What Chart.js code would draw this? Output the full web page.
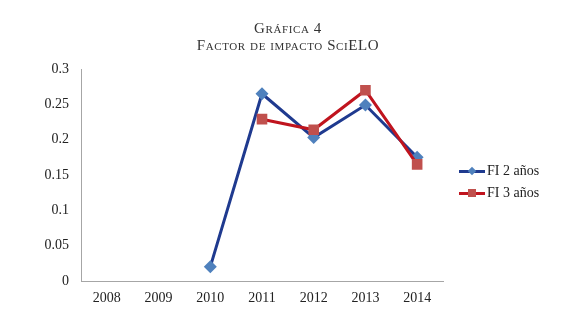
<!DOCTYPE html>
<html>
<head>
<meta charset="utf-8">
<script src="https://cdn.jsdelivr.net/npm/chart.js@4"></script>
<style>
  body { margin: 0; background: #fff; }
  #wrap { position: relative; width: 580px; height: 331px; font-family: "Liberation Serif", "DejaVu Serif", serif; color: #222; }
  #title { position: absolute; left: 0; top: 20px; width: 576px; text-align: center; font-variant: small-caps; font-size: 15px; line-height: 17px; letter-spacing: 0.6px; color: #333; }
  #legend { position: absolute; left: 459px; top: 162px; font-size: 14px; }
  .row { position: relative; height: 22px; line-height: 18px; padding-left: 28px; }
  .row .ln { position: absolute; left: 0; top: 8px; width: 26px; height: 3px; }
  .row .mk { position: absolute; }
</style>
</head>
<body>
<div id="wrap">
  <div id="title">Gráfica 4<br>Factor de impacto SciELO</div>
  <canvas id="chart" width="580" height="331"></canvas>
  <div id="legend"></div>
</div>
<script>
// datos
const years = ['2008', '2009', '2010', '2011', '2012', '2013', '2014'];
const fi2 = [null, null, 0.02, 0.265, 0.203, 0.249, 0.175];
const fi3 = [null, null, null, 0.229, 0.214, 0.27, 0.165];
const seriesNames = ['FI 2 años', 'FI 3 años'];

const navy = '#1f3a8f';
const blueMark = '#4f81bd';
const red = '#c0141e';
const redMark = '#c0504d';

const ctx = document.getElementById('chart').getContext('2d');

new Chart(ctx, {
    type: 'line',
    data: {
        labels: years,
        datasets: [{
            label: seriesNames[0],
            data: fi2,
            borderColor: navy,
            borderWidth: 3,
            pointStyle: 'rectRot',
            pointRadius: 6.5,
            pointBackgroundColor: blueMark,
            pointBorderColor: blueMark,
            pointBorderWidth: 0,
            order: 2
        }, {
            label: seriesNames[1],
            data: fi3,
            borderColor: red,
            borderWidth: 3,
            pointStyle: 'rect',
            pointRadius: 7.5,
            pointBackgroundColor: redMark,
            pointBorderColor: redMark,
            pointBorderWidth: 0,
            order: 1
        }]
    },
    options: {
        responsive: false,
        animation: false,
        layout: { padding: { top: 69, right: 137, bottom: 0, left: 0 } },
        plugins: {
            legend: { display: false },
            tooltip: { enabled: false }
        },
        scales: {
            x: {
                offset: true,
                grid: { display: false, drawTicks: false },
                border: { display: true, color: '#a6a6a6', width: 1 },
                ticks: {
                    color: '#222',
                    padding: 9,
                    font: { family: '"Liberation Serif", serif', size: 14 }
                },
                afterFit: function(scale) { scale.height = 50; }
            },
            y: {
                min: 0,
                max: 0.3,
                grid: { display: false, drawTicks: false },
                border: { display: true, color: '#a6a6a6', width: 1 },
                ticks: {
                    stepSize: 0.05,
                    color: '#222',
                    padding: 12,
                    font: { family: '"Liberation Serif", serif', size: 14 },
                    callback: function(v) { return String(Number(v.toFixed(2))); }
                },
                afterFit: function(scale) { scale.width = 81; }
            }
        }
    }
});

// leyenda
const legend = document.getElementById('legend');
const legendItems = [
    { name: seriesNames[0], line: navy, mark: blueMark, diamond: true },
    { name: seriesNames[1], line: red, mark: redMark, diamond: false }
];
legendItems.forEach(function(it) {
    const row = document.createElement('div');
    row.className = 'row';
    const ln = document.createElement('span');
    ln.className = 'ln';
    ln.style.background = it.line;
    const mk = document.createElement('span');
    mk.className = 'mk';
    mk.style.background = it.mark;
    if (it.diamond) {
        mk.style.cssText += 'left:10px;top:6px;width:6px;height:6px;transform:rotate(45deg);';
    } else {
        mk.style.cssText += 'left:9px;top:5px;width:8px;height:8px;';
    }
    row.appendChild(ln);
    row.appendChild(mk);
    row.appendChild(document.createTextNode(it.name));
    legend.appendChild(row);
});
</script>
</body>
</html>
